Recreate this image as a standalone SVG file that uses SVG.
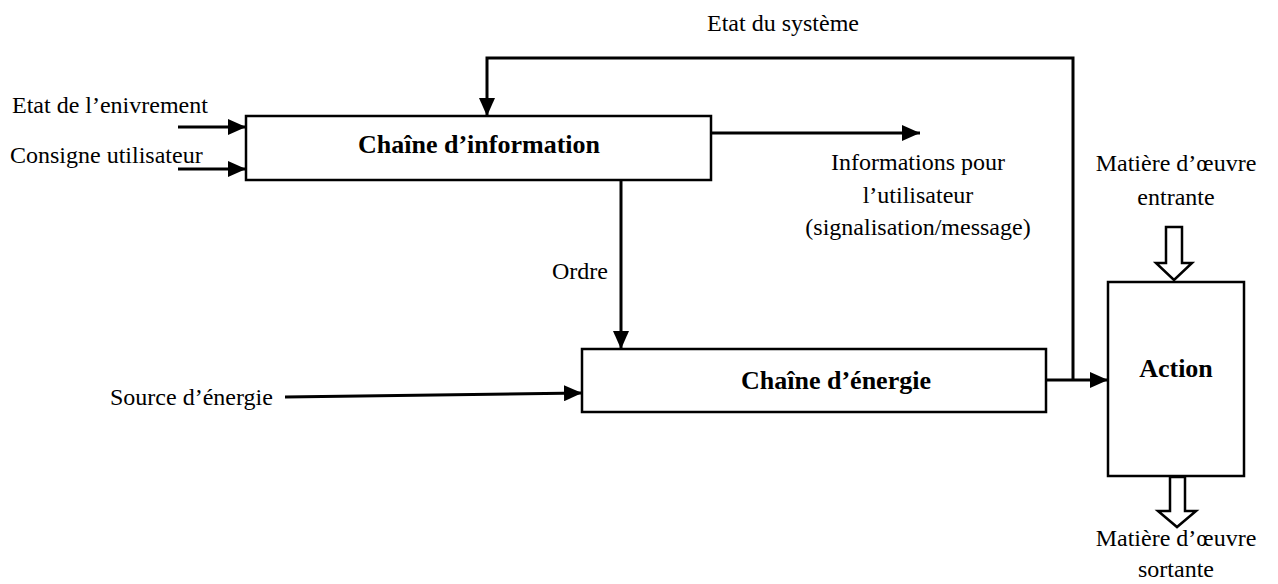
<svg xmlns="http://www.w3.org/2000/svg" width="1278" height="584" viewBox="0 0 1278 584">
<style>
text{font-family:"Liberation Serif","Times New Roman",serif;fill:#000}
.t{font-size:24px}
.b{font-size:26px;font-weight:bold}
.box{fill:#fff;stroke:#000;stroke-width:2.5}
.ln{fill:none;stroke:#000;stroke-width:3}
.hol{fill:#fff;stroke:#000;stroke-width:2.5;stroke-linejoin:miter}
</style>
<defs>
<marker id="ah" markerUnits="userSpaceOnUse" markerWidth="19" markerHeight="16" refX="18" refY="8" orient="auto">
<path d="M0,0 L18,8 L0,16 Z" fill="#000"/>
</marker>
</defs>
<rect width="1278" height="584" fill="#fff"/>
<g id="connectors">
<line class="ln" x1="178" y1="127" x2="246" y2="127" marker-end="url(#ah)"/>
<line class="ln" x1="178" y1="169" x2="246" y2="169" marker-end="url(#ah)"/>
<line class="ln" x1="711" y1="133" x2="920" y2="133" marker-end="url(#ah)"/>
<polyline class="ln" points="1073,380 1073,58 487,58 487,116" marker-end="url(#ah)"/>
<line class="ln" x1="621" y1="180" x2="621" y2="349" marker-end="url(#ah)"/>
<line class="ln" x1="285" y1="397" x2="582" y2="393" marker-end="url(#ah)"/>
<line class="ln" x1="1046" y1="380" x2="1108" y2="380" marker-end="url(#ah)"/>
<path class="hol" d="M1166,227 L1182,227 L1182,263 L1192,263 L1174,280 L1156,263 L1166,263 Z"/>
<path class="hol" d="M1170,477 L1185,477 L1185,511 L1196,511 L1177,527 L1158,511 L1170,511 Z"/>
</g>
<g id="info">
<rect class="box" x="246" y="116" width="465" height="64"/>
<text class="b" x="479" y="153" text-anchor="middle">Chaîne d’information</text>
</g>
<g id="energie">
<rect class="box" x="582" y="349" width="464" height="63"/>
<text class="b" x="836" y="389" text-anchor="middle">Chaîne d’énergie</text>
</g>
<g id="action">
<rect class="box" x="1108" y="282" width="136" height="194"/>
<text class="b" x="1176" y="377" text-anchor="middle">Action</text>
</g>
<g id="labels">
<text class="t" x="12" y="113">Etat de l’enivrement</text>
<text class="t" x="10" y="163">Consigne utilisateur</text>
<text class="t" x="783" y="31" text-anchor="middle">Etat du système</text>
<text class="t" x="918" y="170" text-anchor="middle">Informations pour</text>
<text class="t" x="918" y="203" text-anchor="middle">l’utilisateur</text>
<text class="t" x="918" y="235" text-anchor="middle">(signalisation/message)</text>
<text class="t" x="580" y="279" text-anchor="middle">Ordre</text>
<text class="t" x="110" y="405">Source d’énergie</text>
<text class="t" x="1176" y="171" text-anchor="middle">Matière d’œuvre</text>
<text class="t" x="1176" y="205" text-anchor="middle">entrante</text>
<text class="t" x="1176" y="546" text-anchor="middle">Matière d’œuvre</text>
<text class="t" x="1176" y="577" text-anchor="middle">sortante</text>
</g>
</svg>
